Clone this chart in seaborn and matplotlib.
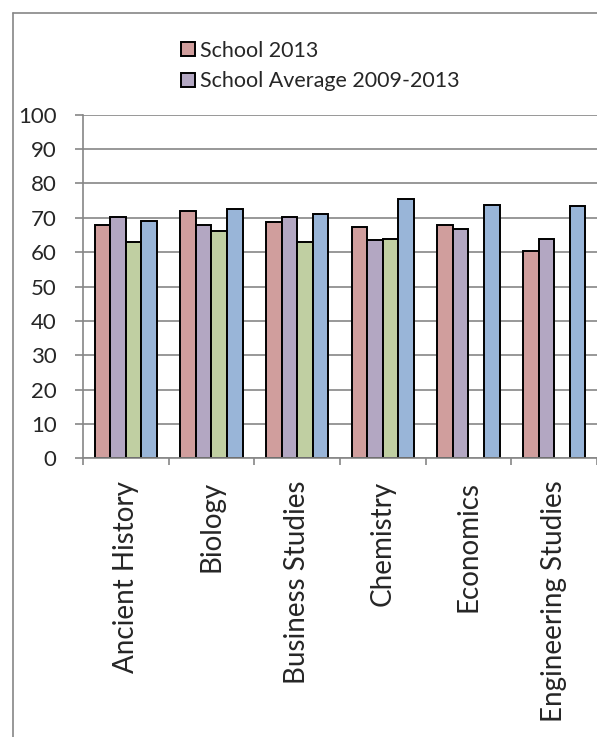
"""Subject results bar chart."""
import matplotlib

matplotlib.use("Agg")
import matplotlib.pyplot as plt
import pandas as pd
import seaborn as sns
from matplotlib.lines import Line2D

subjects = ["Ancient History", "Biology", "Business Studies", "Chemistry", "Economics", "Engineering Studies"]
school_2013 = [67.8, 72.1, 68.9, 67.4, 67.8, 60.4]
school_avg = [70.2, 67.8, 70.2, 63.5, 66.7, 63.7]
state_2013 = [63.1, 66.2, 63.0, 63.8, None, None]
state_avg = [69.2, 72.7, 71.0, 75.4, 73.7, 73.3]
series_names = ["School 2013", "School Average 2009-2013", "State 2013", "State Average 2009-2013"]
colors = ["#D99694", "#B3A2C7", "#C3D69B", "#8EB4E3"]
y_ticks = list(range(0, 101, 10))

GRAY = "#868686"

rows = []
for name, values in zip(series_names, [school_2013, school_avg, state_2013, state_avg]):
    for subject, value in zip(subjects, values):
        rows.append({"subject": subject, "series": name, "score": value})
frame = pd.DataFrame(rows)

sns.set_style("white")
plt.rcParams["font.family"] = ["Lato", "DejaVu Sans"]

fig = plt.figure(figsize=(5.97, 7.37), dpi=100)
ax = fig.add_axes([0.139, 0.378, 0.861, 0.4664])

sns.barplot(
    data=frame, x="subject", y="score", hue="series", hue_order=series_names,
    order=subjects, palette=colors, width=0.73, edgecolor="black", linewidth=1.4,
    errorbar=None, ax=ax,
)

ax.set_ylim(0, 100)
ax.set_xlim(-0.5, len(subjects) - 0.5)
ax.set_yticks(y_ticks)
ax.yaxis.grid(True, color=GRAY, linewidth=1.2)
ax.set_axisbelow(True)
ax.set_xlabel("")
ax.set_ylabel("")

for side in ["top", "right"]:
    ax.spines[side].set_visible(False)
for side in ["left", "bottom"]:
    ax.spines[side].set_color(GRAY)
    ax.spines[side].set_linewidth(1.2)

ax.tick_params(axis="y", left=True, length=6, width=1.2, color=GRAY, pad=13, labelsize=16)
ax.set_xticks(range(len(subjects)))
ax.set_xticklabels(subjects, rotation=90, fontsize=20)
ax.tick_params(axis="x", which="major", length=0, pad=16)
ax.set_xticks([i - 0.5 for i in range(len(subjects) + 1)], minor=True)
ax.tick_params(axis="x", which="minor", bottom=True, length=5, width=1.2, color=GRAY)

# only the two school series are listed in the legend
handles, labels = ax.get_legend_handles_labels()
ax.legend(
    handles[:2], labels[:2], loc="upper left", bbox_to_anchor=(172 / 597, 1 - 32 / 737),
    bbox_transform=fig.transFigure, frameon=False, fontsize=15.5, handlelength=0.65,
    handleheight=0.65, handletextpad=0.25, labelspacing=0.5, borderaxespad=0,
)

fig.add_artist(Line2D([13 / 597, 13 / 597], [0, 1 - 13 / 737], transform=fig.transFigure, color=GRAY, lw=1.2))
fig.add_artist(Line2D([13 / 597, 1], [1 - 13 / 737, 1 - 13 / 737], transform=fig.transFigure, color=GRAY, lw=1.2))

fig.savefig("out.png", dpi=100)
plt.close(fig)
